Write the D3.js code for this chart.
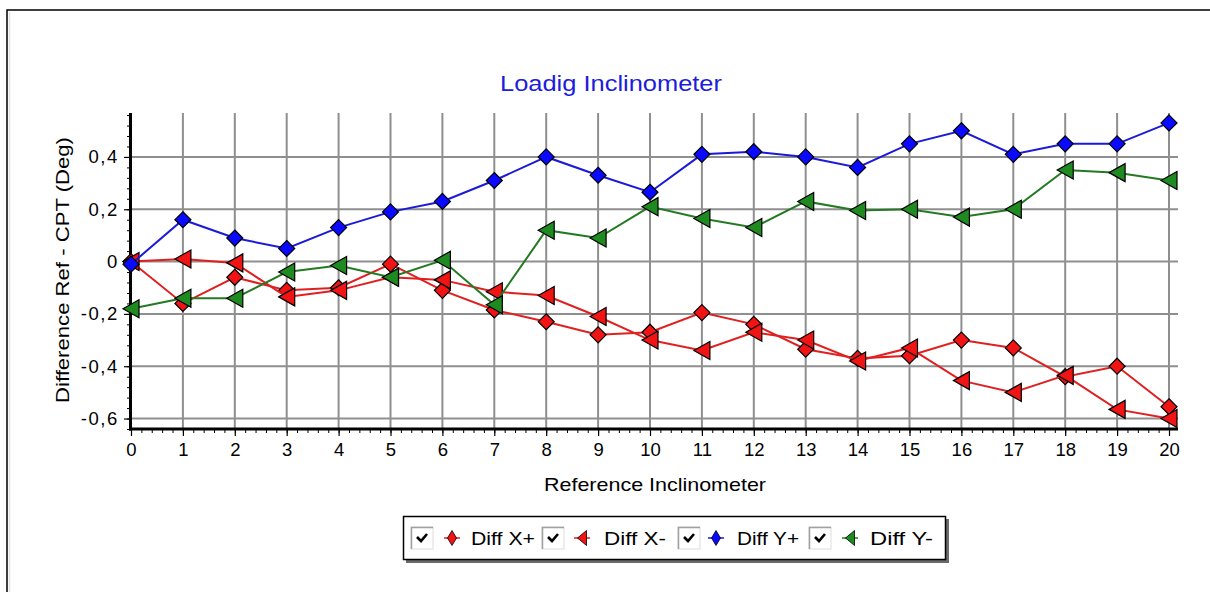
<!DOCTYPE html>
<html><head><meta charset="utf-8">
<script src="https://cdn.jsdelivr.net/npm/d3@7"></script>
<style>
html,body{margin:0;padding:0;background:#fff;}
svg{display:block;font-family:"Liberation Sans",Arial,sans-serif;}
</style></head>
<body>
<svg id="c" width="1210" height="592"></svg>
<script>
// ---- data ----
const categories = [0,1,2,3,4,5,6,7,8,9,10,11,12,13,14,15,16,17,18,19,20];
const diffXPlus  = [0.00,-0.16,-0.06,-0.11,-0.10,-0.01,-0.11,-0.185,-0.23,-0.28,-0.27,-0.195,-0.24,-0.335,-0.37,-0.36,-0.30,-0.33,-0.44,-0.40,-0.555];
const diffXMinus = [0.00,0.01,-0.005,-0.135,-0.11,-0.06,-0.07,-0.115,-0.13,-0.21,-0.30,-0.34,-0.27,-0.30,-0.38,-0.33,-0.455,-0.50,-0.435,-0.565,-0.60];
const diffYPlus  = [-0.01,0.16,0.09,0.05,0.13,0.19,0.23,0.31,0.40,0.33,0.265,0.41,0.42,0.40,0.36,0.45,0.50,0.41,0.45,0.45,0.53];
const diffYMinus = [-0.18,-0.14,-0.14,-0.04,-0.015,-0.06,0.005,-0.165,0.12,0.09,0.21,0.165,0.13,0.23,0.195,0.20,0.17,0.20,0.35,0.34,0.31];
const seriesNames = ["Diff X+","Diff X-","Diff Y+","Diff Y-"];
const yTickValues = [-0.6,-0.4,-0.2,0,0.2,0.4];
const titleText = "Loadig Inclinometer";
const xLabel = "Reference Inclinometer";
const yLabel = "Difference Ref - CPT (Deg)";

const series = [
  {name:seriesNames[0], values:diffXPlus,  line:"#e02020", fill:"#f01414", shape:"diamond"},
  {name:seriesNames[1], values:diffXMinus, line:"#e02020", fill:"#f01414", shape:"tri"},
  {name:seriesNames[2], values:diffYPlus,  line:"#1a1ad8", fill:"#0a0aff", shape:"diamond"},
  {name:seriesNames[3], values:diffYMinus, line:"#237a23", fill:"#1f8a1f", shape:"tri"}
];

const svg = d3.select("#c");

// outer frame
svg.append("rect").attr("x",7).attr("y",10).attr("width",1300).attr("height",700)
  .attr("fill","#fff").attr("stroke","#000").attr("stroke-width",1.5);
svg.append("line").attr("x1",9.5).attr("x2",9.5).attr("y1",12).attr("y2",600)
  .attr("stroke","#e4e4e4").attr("stroke-width",1.5);

const x = d3.scaleLinear().domain([0,20]).range([131,1169]);
const y = d3.scaleLinear().domain([-0.64,0.568]).range([429,113]);
const plotRight = 1178, plotTop = 113, plotBottom = 429;

// grid
const grid = svg.append("g");
grid.selectAll("line.v").data(categories).join("line")
  .attr("x1",d=>x(d)).attr("x2",d=>x(d)).attr("y1",plotTop).attr("y2",plotBottom)
  .attr("stroke","#8f8f8f").attr("stroke-width",2);
grid.selectAll("line.h").data(yTickValues).join("line")
  .attr("x1",x(0)).attr("x2",plotRight).attr("y1",d=>y(d)).attr("y2",d=>y(d))
  .attr("stroke","#8f8f8f").attr("stroke-width",2);

// y axis minor ticks
const yMinor = d3.range(-16,15).map(i=>i*0.04);
const yMinAx = svg.append("g").attr("transform",`translate(${x(0)},0)`)
  .call(d3.axisLeft(y).tickValues(yMinor).tickSize(4).tickFormat(""));
yMinAx.select(".domain").remove();
yMinAx.selectAll("line").attr("stroke","#000").attr("stroke-width",1);
// y axis major
const fmt = d => d===0 ? "0" : d3.format(".1f")(d).replace(".",",").replace("−","-");
const yAx = svg.append("g").attr("transform",`translate(${x(0)},0)`)
  .call(d3.axisLeft(y).tickValues(yTickValues).tickSize(7).tickPadding(5).tickFormat(fmt));
yAx.select(".domain").remove();
yAx.selectAll("line").attr("stroke","#000").attr("stroke-width",1.2);
yAx.selectAll("text").attr("font-size",18.5).attr("fill","#000")
  .attr("font-family","'Liberation Sans',Arial,sans-serif").attr("letter-spacing",1.6);

// x axis minor
const xMinor = d3.range(0,101).map(i=>i*0.2);
const xMinAx = svg.append("g").attr("transform",`translate(0,${plotBottom})`)
  .call(d3.axisBottom(x).tickValues(xMinor).tickSize(4).tickFormat(""));
xMinAx.select(".domain").remove();
xMinAx.selectAll("line").attr("stroke","#000").attr("stroke-width",1);
const xAx = svg.append("g").attr("transform",`translate(0,${plotBottom})`)
  .call(d3.axisBottom(x).tickValues(categories).tickSize(7).tickPadding(7).tickFormat(d3.format("d")));
xAx.select(".domain").remove();
xAx.selectAll("line").attr("stroke","#000").attr("stroke-width",1.2);
xAx.selectAll("text").attr("font-size",18.5).attr("fill","#000")
  .attr("font-family","'Liberation Sans',Arial,sans-serif");

// thick axis lines
svg.append("line").attr("x1",x(0)-0.5).attr("x2",x(0)-0.5).attr("y1",plotTop).attr("y2",plotBottom+1.5)
  .attr("stroke","#000").attr("stroke-width",3);
svg.append("line").attr("x1",x(0)-2).attr("x2",plotRight).attr("y1",plotBottom).attr("y2",plotBottom)
  .attr("stroke","#000").attr("stroke-width",3);

// shapes
function diamondPath(s){ return `M0,${-s}L${s},0L0,${s}L${-s},0Z`; }
function triPath(w,h){ return `M${-w},0L${w},${-h}L${w},${h}Z`; }

const line = d3.line().x((d,i)=>x(categories[i])).y(d=>y(d));
series.forEach(s=>{
  const g = svg.append("g");
  g.append("path").attr("d",line(s.values)).attr("fill","none")
    .attr("stroke",s.line).attr("stroke-width",2);
  g.selectAll("path.m").data(s.values).join("path").attr("class","m")
    .attr("transform",(d,i)=>`translate(${x(categories[i])},${y(d)})`)
    .attr("d", s.shape==="diamond" ? diamondPath(8) : triPath(8,9))
    .attr("fill",s.fill).attr("stroke","#000").attr("stroke-width",1.2)
    .attr("stroke-linejoin","miter");
});

// title & labels
svg.append("text").attr("x",611).attr("y",91).attr("text-anchor","middle")
  .attr("font-size",21.5).attr("fill","#1c1cdc").attr("textLength",222)
  .attr("lengthAdjust","spacingAndGlyphs").text(titleText);
svg.append("text").attr("x",655).attr("y",491).attr("text-anchor","middle")
  .attr("font-size",18.5).attr("fill","#000").attr("textLength",222)
  .attr("lengthAdjust","spacingAndGlyphs").text(xLabel);
svg.append("text").attr("transform","translate(69,270) rotate(-90)").attr("text-anchor","middle")
  .attr("font-size",19).attr("fill","#000").attr("textLength",266)
  .attr("lengthAdjust","spacingAndGlyphs").text(yLabel);

// legend
const lg = svg.append("g");
lg.append("rect").attr("x",406).attr("y",519).attr("width",543).attr("height",44).attr("fill","#6a6a6a");
lg.append("rect").attr("x",403.5).attr("y",516.5).attr("width",542).attr("height",43)
  .attr("fill","#fff").attr("stroke","#000").attr("stroke-width",1.5);
const legendItems = [
  {cb:411, mk:452, tx:471, tl:64},
  {cb:542, mk:582, tx:604, tl:62},
  {cb:678, mk:716, tx:737, tl:62},
  {cb:809, mk:850, tx:870, tl:63}
];
legendItems.forEach((it,i)=>{
  const s = series[i];
  const cy = 538;
  lg.append("rect").attr("x",it.cb).attr("y",cy-11).attr("width",22).attr("height",22)
    .attr("fill","#fff").attr("stroke","#dcdcdc").attr("stroke-width",1);
  lg.append("path").attr("d",`M${it.cb+0.5},${cy+11}V${cy-10.5}H${it.cb+22}`)
    .attr("fill","none").attr("stroke","#a0a0a0").attr("stroke-width",1.5);
  lg.append("path").attr("d",`M${it.cb+6},${cy-1}L${it.cb+10},${cy+3}L${it.cb+16},${cy-4}`)
    .attr("fill","none").attr("stroke","#000").attr("stroke-width",2.6);
  lg.append("line").attr("x1",it.mk-8).attr("x2",it.mk+8).attr("y1",cy).attr("y2",cy)
    .attr("stroke",s.line).attr("stroke-width",1.5);
  lg.append("path").attr("transform",`translate(${it.mk},${cy})`)
    .attr("d", s.shape==="diamond" ? `M0,-7.5L4.5,0L0,7.5L-4.5,0Z` : `M-4.5,0L4.5,-7.5L4.5,7.5Z`)
    .attr("fill",s.fill).attr("stroke","#000").attr("stroke-width",0.8);
  lg.append("text").attr("x",it.tx).attr("y",cy+6.5).attr("font-size",18.5).attr("fill","#000")
    .attr("textLength",it.tl).attr("lengthAdjust","spacingAndGlyphs").text(s.name);
});
</script>
</body></html>
